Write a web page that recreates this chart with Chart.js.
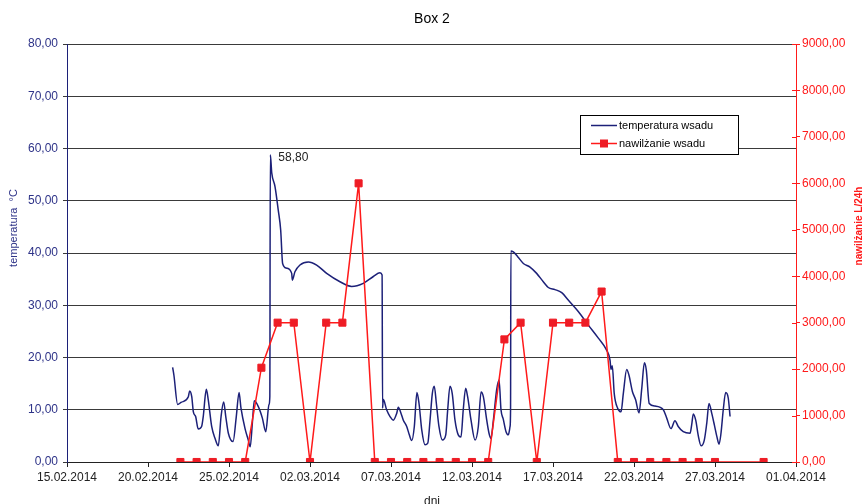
<!DOCTYPE html>
<html><head><meta charset="utf-8">
<script src="https://cdn.jsdelivr.net/npm/chart.js@4.4.1/dist/chart.umd.min.js"></script>
<style>html,body{margin:0;padding:0;background:#fff;overflow:hidden}canvas{display:block}</style>
</head><body>
<canvas id="c" width="866" height="504"></canvas>
<script>
const chartTitle = 'Box 2';
const xTitle = 'dni';
const yLeftTitle = 'temperatura  °C';
const yRightTitle = 'nawilżanie L/24h';
const seriesNames = ['temperatura wsadu', 'nawilżanie wsadu'];
const startDateUTC = [2014, 1, 15]; // 15.02.2014 = day 0
const xMin = 0, xMax = 45, xStep = 5;
const yLeftMax = 80, yLeftStep = 10;
const yRightMax = 9000, yRightStep = 1000;

// temperature (days since 15.02.2014)
const tempDays = [6.52,6.60,6.83,7.04,7.49,7.57,7.70,7.80,7.94,8.10,8.31,8.41,8.60,8.72,8.93,9.14,9.34,9.51,9.67,9.80,9.96,10.25,10.45,10.62,10.74,10.99,11.19,11.31,11.44,11.56,11.81,12.06,12.27,12.47,12.52,12.55,12.64,12.84,13.04,13.19,13.31,13.56,13.87,13.91,14.07,14.38,14.90,15.41,16.03,16.85,17.57,18.29,18.91,19.32,19.45,19.48,19.52,19.73,19.94,20.14,20.35,20.45,20.62,20.76,20.97,21.13,21.28,21.44,21.60,21.73,21.90,22.10,22.27,22.41,22.55,22.67,22.80,22.96,23.17,23.38,23.50,23.64,23.78,23.95,24.15,24.32,24.46,24.61,24.73,24.94,25.19,25.39,25.56,25.70,25.91,26.05,26.17,26.32,26.52,26.67,26.79,26.93,27.10,27.24,27.35,27.38,27.40,27.55,27.82,28.17,28.58,28.99,29.40,29.71,30.12,30.54,30.94,31.56,32.18,32.80,33.31,33.52,33.58,33.66,33.78,33.99,34.20,34.34,34.55,34.69,34.90,35.10,35.31,35.48,35.64,35.76,35.94,36.30,36.81,37.02,37.28,37.53,37.73,38.04,38.46,38.56,38.66,38.81,38.97,39.14,39.34,39.49,39.63,39.80,39.96,40.12,40.25,40.37,40.51,40.66,40.82,40.93];
const tempValues = [18.1,16.6,11.0,11.4,12.5,13.6,12.5,9.6,8.7,6.3,6.8,8.7,13.9,11.9,6.8,4.5,3.1,8.7,11.5,8.7,5.5,3.9,8.7,13.3,10.3,6.4,4.2,2.9,7.4,11.7,10.6,8.4,5.8,11.0,12.5,58.8,55.3,52.7,48.2,44.4,38.0,37.1,36.1,34.8,36.4,37.7,38.3,37.7,36.1,34.5,33.6,34.2,35.5,36.2,35.8,10.3,12.0,10.0,8.7,8.0,9.3,10.5,9.3,8.0,6.8,5.2,4.1,6.8,13.3,11.2,6.1,3.3,3.6,8.0,13.1,14.5,11.2,6.8,4.2,5.2,10.0,14.5,13.1,8.0,5.2,4.8,10.0,14.1,12.5,8.0,4.2,6.8,13.4,12.5,8.0,5.5,4.5,8.0,13.8,15.7,10.0,8.2,5.8,5.2,6.8,10.0,40.4,40.2,39.3,38.0,37.3,36.1,34.5,33.4,33.0,32.4,31.0,28.8,26.2,23.7,21.4,19.5,17.7,18.4,13.1,10.3,9.6,13.1,17.7,16.6,13.5,11.9,9.4,14.1,19.0,17.6,11.2,10.7,10.0,8.4,6.4,7.9,6.8,5.8,5.5,7.1,9.2,8.0,5.0,3.1,4.2,7.4,11.2,9.3,7.1,4.8,3.4,5.5,10.0,13.3,12.2,8.7];

// humidification L/24h
const humDays = [7,8,9,10,11,12,13,14,15,16,17,18,19,20,21,22,23,24,25,26,27,28,29,30,31,32,33,34,35,36,37,38,39,40,43];
const humValues = [0,0,0,0,0,2030,3000,3000,0,3000,3000,6000,0,0,0,0,0,0,0,0,2640,3000,0,3000,3000,3000,3670,0,0,0,0,0,0,0,0];

const NAVY = '#1c2078';
const NAVY_TXT = '#2e3388';
const RED = '#ff1a1a';
const FONT = '"Liberation Sans", Arial, sans-serif';
Chart.defaults.font.family = FONT;

function fmtComma(v){ return Number(v).toFixed(2).replace('.', ','); }
function fmtDate(v){
  const d = new Date(Date.UTC(startDateUTC[0], startDateUTC[1], startDateUTC[2]) + v*86400000);
  const p = n => String(n).padStart(2,'0');
  return p(d.getUTCDate()) + '.' + p(d.getUTCMonth()+1) + '.' + d.getUTCFullYear();
}

const decor = {
  id: 'decor',
  afterDraw(chart){
    const ctx = chart.ctx, ca = chart.chartArea;
    const sy1 = chart.scales.y1, sx = chart.scales.x, sy = chart.scales.y;
    ctx.save();
    // inner ticks on right axis
    ctx.strokeStyle = RED; ctx.lineWidth = 1;
    for (let v = 0; v <= yRightMax; v += yRightStep) {
      const py = Math.round(sy1.getPixelForValue(v)) + 0.5;
      ctx.beginPath(); ctx.moveTo(ca.right - 4, py); ctx.lineTo(ca.right, py); ctx.stroke();
    }
    // title
    ctx.fillStyle = '#000'; ctx.textAlign = 'center'; ctx.textBaseline = 'middle';
    ctx.font = '14px ' + FONT;
    ctx.fillText(chartTitle, 432, 19);
    // x title
    ctx.font = '12px ' + FONT; ctx.fillStyle = '#222';
    ctx.fillText(xTitle, 432, 502);
    // left y title
    ctx.save(); ctx.translate(14, 228); ctx.rotate(-Math.PI/2);
    ctx.font = '11px ' + FONT; ctx.fillStyle = NAVY_TXT;
    ctx.fillText(yLeftTitle, 0, 0); ctx.restore();
    // right y title
    ctx.save(); ctx.translate(859, 226); ctx.rotate(-Math.PI/2);
    ctx.font = 'bold 10px ' + FONT; ctx.fillStyle = RED;
    ctx.fillText(yRightTitle, 0, 0); ctx.restore();
    // data label on max
    let mi = 0; tempValues.forEach((v,i)=>{ if (v > tempValues[mi]) mi = i; });
    const px = sx.getPixelForValue(tempDays[mi]), py = sy.getPixelForValue(tempValues[mi]);
    ctx.font = '12px ' + FONT; ctx.fillStyle = '#222'; ctx.textAlign = 'left';
    ctx.fillText(fmtComma(tempValues[mi]), px + 8, py + 3);
    // legend
    const lx = 580.5, ly = 115.5, lw = 158, lh = 39;
    ctx.fillStyle = '#fff'; ctx.fillRect(lx, ly, lw, lh);
    ctx.strokeStyle = '#000'; ctx.lineWidth = 1; ctx.strokeRect(lx, ly, lw, lh);
    ctx.lineWidth = 1.5;
    ctx.strokeStyle = NAVY; ctx.beginPath(); ctx.moveTo(591, 125.5); ctx.lineTo(617, 125.5); ctx.stroke();
    ctx.strokeStyle = RED; ctx.beginPath(); ctx.moveTo(591, 143.5); ctx.lineTo(617, 143.5); ctx.stroke();
    ctx.fillStyle = '#ee1c25'; ctx.fillRect(600, 139.5, 8, 8);
    ctx.font = '11px ' + FONT; ctx.fillStyle = '#000'; ctx.textAlign = 'left';
    ctx.fillText(seriesNames[0], 619, 126);
    ctx.fillText(seriesNames[1], 619, 144);
    ctx.restore();
  }
};

new Chart(document.getElementById('c'), {
  type: 'line',
  data: {
    datasets: [
      { label: seriesNames[1], yAxisID: 'y1', data: humDays.map((d,i)=>({x:d, y:humValues[i]})),
        borderColor: RED, borderWidth: 1.5, tension: 0, pointStyle: 'rect', pointRadius: 5,
        pointBackgroundColor: '#ee1c25', pointBorderColor: '#ee1c25', pointBorderWidth: 1, order: 0 },
      { label: seriesNames[0], yAxisID: 'y', data: tempDays.map((d,i)=>({x:d, y:tempValues[i]})),
        borderColor: NAVY, borderWidth: 1.5, pointRadius: 0, cubicInterpolationMode: 'monotone', order: 1 }
    ]
  },
  options: {
    responsive: false, animation: false, devicePixelRatio: 1,
    layout: { padding: { top: 44, left: 0, right: 0, bottom: 0 } },
    plugins: { legend: { display: false }, tooltip: { enabled: false }, title: { display: false } },
    scales: {
      x: { type: 'linear', min: xMin, max: xMax,
        afterFit: s => { s.height = 42; },
        ticks: { stepSize: xStep, autoSkip: false, maxRotation: 0, padding: 3, color: '#222', font: { size: 12 }, callback: v => fmtDate(v) },
        grid: { drawOnChartArea: false, drawTicks: true, tickLength: 5, color: '#222' },
        border: { color: '#222', width: 1 } },
      y: { position: 'left', min: 0, max: yLeftMax,
        afterFit: s => { s.width = 67; },
        ticks: { stepSize: yLeftStep, padding: 5, color: NAVY_TXT, font: { size: 12 }, callback: v => fmtComma(v) },
        grid: { color: '#3a3a3a', lineWidth: 1, tickLength: 4 },
        border: { color: NAVY, width: 1 } },
      y1: { position: 'right', min: 0, max: yRightMax,
        afterFit: s => { s.width = 70; },
        ticks: { stepSize: yRightStep, padding: 2, color: RED, font: { size: 12 }, callback: v => fmtComma(v) },
        grid: { drawOnChartArea: false, color: RED, tickLength: 4 },
        border: { color: RED, width: 1 } }
    }
  },
  plugins: [decor]
});
</script>
</body></html>
